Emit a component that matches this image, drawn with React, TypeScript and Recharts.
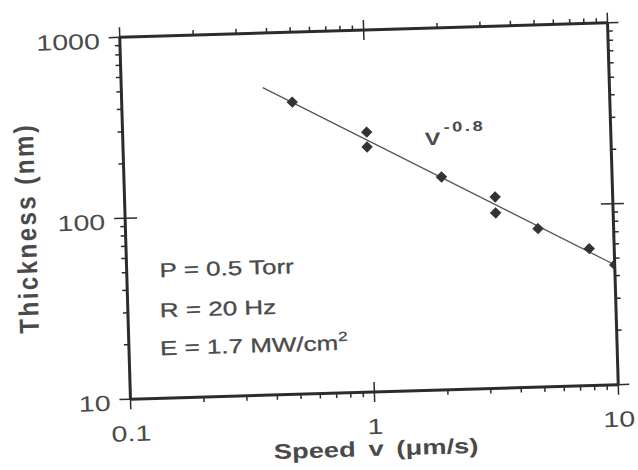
import React from 'react';
import { ScatterChart, Scatter, XAxis, YAxis, Customized } from 'recharts';

// ---- data ----
const speedValues = [0.5, 1.0, 1.0, 2.0, 3.3, 3.3, 4.9, 7.9, 10];
const thicknessValues = [411, 273, 226, 150, 114, 93, 75, 57, 46];
const fitSpeed = [0.38, 10];
const fitThickness = [500, 46];

// ---- ticks ----
const xTickValues = [0.1, 0.2, 0.3, 0.4, 0.5, 0.6, 0.7, 0.8, 0.9, 1, 2, 3, 4, 5, 6, 7, 8, 9, 10];
const yTickValues = [10, 20, 30, 40, 50, 60, 70, 80, 90, 100, 200, 300, 400, 500, 600, 700, 800, 900, 1000];
const xMajorTicks = [0.1, 1, 10];
const xMajorText = ['0.1', '1', '10'];
const yMajorTicks = [10, 100, 1000];
const yMajorText = ['10', '100', '1000'];

const points = speedValues.map((x, i) => ({ x, y: thicknessValues[i] }));
const fitLine = fitSpeed.map((x, i) => ({ x, y: fitThickness[i] }));

const FONT = "'Liberation Sans', Arial, Helvetica, sans-serif";
const TEXT = '#4a4a4a';
const AXIS = '#2c2c2c';
const SX = 1.3;

const majorIndex = (v: number, list: number[]) => list.findIndex((m) => Math.abs(v / m - 1) < 1e-6);

const BottomTick = (props: any) => {
  const { x, y, payload } = props;
  const idx = majorIndex(payload.value, xMajorTicks);
  const major = idx >= 0;
  const interior = major && idx > 0 && idx < xMajorTicks.length - 1;
  return (
    <g>
      <line x1={x} x2={x} y1={y - (interior ? 10 : 0)} y2={y + (major ? 10 : 5)} stroke={AXIS} strokeWidth={1.5} />
      {major && (
        <text transform={`translate(${x},${y + 42}) scale(${SX},1)`} textAnchor="middle" fontSize={22} fontFamily={FONT} fill={TEXT}>
          {xMajorText[idx]}
        </text>
      )}
    </g>
  );
};

const TopTick = (props: any) => {
  const { x, y, payload } = props;
  const idx = majorIndex(payload.value, xMajorTicks);
  const major = idx >= 0;
  const interior = major && idx > 0 && idx < xMajorTicks.length - 1;
  return <line x1={x} x2={x} y1={y + (interior ? 10 : 0)} y2={y - (major ? 10 : 5)} stroke={AXIS} strokeWidth={1.5} />;
};

const LeftTick = (props: any) => {
  const { x, y, payload } = props;
  const idx = majorIndex(payload.value, yMajorTicks);
  const major = idx >= 0;
  const interior = major && idx > 0 && idx < yMajorTicks.length - 1;
  return (
    <g>
      <line x1={x + (interior ? 12 : 0)} x2={x - (major ? 11 : 5)} y1={y} y2={y} stroke={AXIS} strokeWidth={1.5} />
      {major && (
        <text transform={`translate(${x - 20},${y + 11}) scale(${SX},1)`} textAnchor="end" fontSize={22} fontFamily={FONT} fill={TEXT}>
          {yMajorText[idx]}
        </text>
      )}
    </g>
  );
};

const RightTick = (props: any) => {
  const { x, y, payload } = props;
  const idx = majorIndex(payload.value, yMajorTicks);
  const major = idx >= 0;
  const interior = major && idx > 0 && idx < yMajorTicks.length - 1;
  return <line x1={x - (interior ? 12 : 0)} x2={x + (major ? 11 : 5)} y1={y} y2={y} stroke={AXIS} strokeWidth={1.5} />;
};

const Diamond = (props: any) => {
  const { cx, cy } = props;
  const r = 5;
  return <polygon points={`${cx},${cy - r} ${cx + r},${cy} ${cx},${cy + r} ${cx - r},${cy}`} fill="#333" stroke="#333" strokeWidth={1} />;
};

const NoShape = () => <g />;

const Annotations = () => (
  <g fontFamily={FONT} fill={TEXT}>
    <text transform={`translate(26,218) scale(1.15,1) rotate(-90)`} textAnchor="middle" dominantBaseline="central" fontSize={24} fontWeight="bold" letterSpacing={2.5}>
      Thickness (nm)
    </text>
    <text transform={`translate(369,456) scale(${SX},1)`} textAnchor="middle" fontSize={21} fontWeight="bold" wordSpacing={4}>
      Speed v (μm/s)
    </text>
    <text transform={`translate(158,271) scale(${SX},1)`} fontSize={20} stroke={TEXT} strokeWidth={0.3}>
      P = 0.5 Torr
    </text>
    <text transform={`translate(157,311) scale(${SX},1)`} fontSize={20} stroke={TEXT} strokeWidth={0.3}>
      R = 20 Hz
    </text>
    <text transform={`translate(156,349) scale(${SX},1)`} fontSize={20} stroke={TEXT} strokeWidth={0.3}>
      E = 1.7 MW/cm
      <tspan fontSize={13} dy={-9}>2</tspan>
    </text>
    <text transform={`translate(427,147) scale(${SX},1)`} fontSize={18} fontWeight="bold">
      V
    </text>
    <text transform={`translate(446,134) scale(${SX},1)`} fontSize={14} fontWeight="bold" letterSpacing={2}>
      -0.8
    </text>
  </g>
);

export default function App() {
  return (
    <div
      style={{
        position: 'absolute',
        left: 0,
        top: 0,
        width: 638,
        height: 470,
        transform: 'rotate(-1.7deg)',
        transformOrigin: '369px 211px',
      }}
    >
      <ScatterChart width={638} height={470} margin={{ top: 0, right: 0, bottom: 0, left: 0 }}>
        <XAxis
          xAxisId="b"
          type="number"
          dataKey="x"
          scale="log"
          domain={[0.1, 10]}
          ticks={xTickValues}
          interval={0}
          orientation="bottom"
          height={78}
          tickSize={0}
          tickMargin={0}
          tickLine={false}
          tick={(p: any) => <BottomTick {...p} />}
          axisLine={{ stroke: AXIS, strokeWidth: 3 }}
          allowDataOverflow
        />
        <XAxis
          xAxisId="t"
          type="number"
          dataKey="x"
          scale="log"
          domain={[0.1, 10]}
          ticks={xTickValues}
          interval={0}
          orientation="top"
          height={30}
          tickSize={0}
          tickMargin={0}
          tickLine={false}
          tick={(p: any) => <TopTick {...p} />}
          axisLine={{ stroke: AXIS, strokeWidth: 3 }}
          allowDataOverflow
        />
        <YAxis
          yAxisId="l"
          type="number"
          dataKey="y"
          scale="log"
          domain={[10, 1000]}
          ticks={yTickValues}
          interval={0}
          orientation="left"
          width={125}
          tickSize={0}
          tickMargin={0}
          tickLine={false}
          tick={(p: any) => <LeftTick {...p} />}
          axisLine={{ stroke: AXIS, strokeWidth: 3 }}
          allowDataOverflow
        />
        <YAxis
          yAxisId="r"
          type="number"
          dataKey="y"
          scale="log"
          domain={[10, 1000]}
          ticks={yTickValues}
          interval={0}
          orientation="right"
          width={25}
          tickSize={0}
          tickMargin={0}
          tickLine={false}
          tick={(p: any) => <RightTick {...p} />}
          axisLine={{ stroke: AXIS, strokeWidth: 3 }}
          allowDataOverflow
        />
        <Scatter
          data={fitLine}
          xAxisId="b"
          yAxisId="l"
          line={{ stroke: '#555', strokeWidth: 1.3 }}
          shape={NoShape}
          isAnimationActive={false}
        />
        <Scatter data={points} xAxisId="b" yAxisId="l" shape={Diamond} isAnimationActive={false} />
        <Customized component={Annotations} />
      </ScatterChart>
    </div>
  );
}
